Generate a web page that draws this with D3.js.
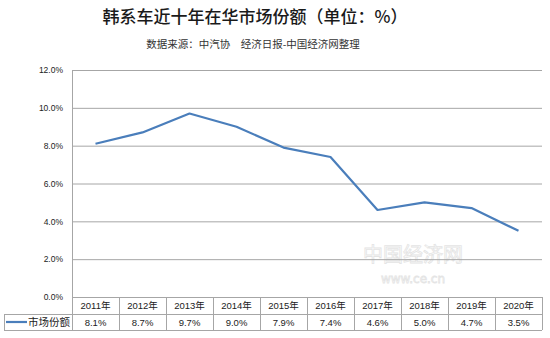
<!DOCTYPE html>
<html><head><meta charset="utf-8">
<script src="https://cdn.jsdelivr.net/npm/d3@7"></script>
<style>body{margin:0;background:#fff}svg{display:block}</style>
</head><body>
<svg id="c" width="550" height="338"></svg>
<script>
const categories = ["2011年","2012年","2013年","2014年","2015年","2016年","2017年","2018年","2019年","2020年"];
const values = [8.1, 8.7, 9.7, 9.0, 7.9, 7.4, 4.6, 5.0, 4.7, 3.5];
const valueLabels = ["8.1%","8.7%","9.7%","9.0%","7.9%","7.4%","4.6%","5.0%","4.7%","3.5%"];
const yTicks = [0, 2, 4, 6, 8, 10, 12];
const seriesName = "市场份额";
const title = "韩系车近十年在华市场份额（单位：%）";
const subtitle = "数据来源：中汽协　经济日报-中国经济网整理";

const svg = d3.select("#c");
const font = "'Noto Sans CJK SC', 'Noto Sans', sans-serif";
const L = 72, R = 542, T = 70, B = 297;
const x = d3.scaleBand().domain(categories).range([L, R]);
const y = d3.scaleLinear().domain([0, 12]).range([B, T]);

svg.append("text").attr("x", 255).attr("y", 23).attr("text-anchor", "middle")
  .attr("font-family", font).attr("font-size", 17).attr("font-weight", 500).attr("fill", "#1a1a1a").text(title);
svg.append("text").attr("x", 253).attr("y", 48).attr("text-anchor", "middle")
  .attr("font-family", font).attr("font-size", 10.5).attr("fill", "#333").text(subtitle);

// watermark
svg.append("text").attr("x", 413).attr("y", 262).attr("text-anchor", "middle")
  .attr("font-family", font).attr("font-size", 20).attr("fill", "none").attr("stroke", "#e4e4e4").attr("stroke-width", 0.8).text("中国经济网");
svg.append("text").attr("x", 413).attr("y", 283).attr("text-anchor", "middle")
  .attr("font-family", "DejaVu Sans").attr("font-size", 12).attr("fill", "none").attr("stroke", "#e4e4e4").attr("stroke-width", 0.8).text("www.ce.cn");

// gridlines
const yAxis = d3.axisLeft(y).tickValues(yTicks).tickSize(-(R - L)).tickFormat(d => d.toFixed(1) + "%");
const gy = svg.append("g").attr("transform", `translate(${L},0)`).call(yAxis);
gy.select(".domain").remove();
gy.selectAll(".tick line").attr("stroke", "#a6a6a6").attr("stroke-width", 1);
gy.selectAll(".tick text").attr("x", -9).attr("font-family", "'Liberation Sans', Arial, sans-serif").attr("font-size", 8.5).attr("fill", "#222");
svg.append("line").attr("x1", L + 0.5).attr("x2", L + 0.5).attr("y1", T).attr("y2", B).attr("stroke", "#a6a6a6");

// line
const line = d3.line().x((d, i) => x(categories[i]) + x.bandwidth() / 2).y(d => y(d));
svg.append("path").datum(values).attr("d", line).attr("fill", "none").attr("stroke", "#4a7ebb").attr("stroke-width", 2.2).attr("stroke-linejoin", "round");

// data table
const r1 = B, r2 = 314, r3 = 330, legL = 4;
const tg = svg.append("g").attr("stroke", "#a6a6a6").attr("stroke-width", 1).attr("shape-rendering", "crispEdges");
tg.append("line").attr("x1", L).attr("x2", R).attr("y1", r1).attr("y2", r1);
tg.append("line").attr("x1", legL).attr("x2", R).attr("y1", r2).attr("y2", r2);
tg.append("line").attr("x1", legL).attr("x2", R).attr("y1", r3).attr("y2", r3);
tg.append("line").attr("x1", legL).attr("x2", legL).attr("y1", r2).attr("y2", r3);
categories.forEach(c => {
  tg.append("line").attr("x1", x(c)).attr("x2", x(c)).attr("y1", r1).attr("y2", r3);
});
tg.append("line").attr("x1", R).attr("x2", R).attr("y1", r1).attr("y2", r3);

const tf = "'Liberation Sans', 'Noto Sans CJK SC', sans-serif";
categories.forEach((c, i) => {
  svg.append("text").attr("x", x(c) + x.bandwidth() / 2).attr("y", (r1 + r2) / 2 + 3.5).attr("text-anchor", "middle")
    .attr("font-family", tf).attr("font-size", 9.5).attr("fill", "#222").text(c);
  svg.append("text").attr("x", x(c) + x.bandwidth() / 2).attr("y", (r2 + r3) / 2 + 3.5).attr("text-anchor", "middle")
    .attr("font-family", tf).attr("font-size", 9.5).attr("fill", "#222").text(valueLabels[i]);
});
svg.append("line").attr("x1", 6).attr("x2", 27).attr("y1", (r2 + r3) / 2).attr("y2", (r2 + r3) / 2).attr("stroke", "#4a7ebb").attr("stroke-width", 2.2);
svg.append("text").attr("x", 28).attr("y", (r2 + r3) / 2 + 4).attr("font-family", font).attr("font-size", 10.5).attr("fill", "#222").text(seriesName);
</script>
</body></html>
